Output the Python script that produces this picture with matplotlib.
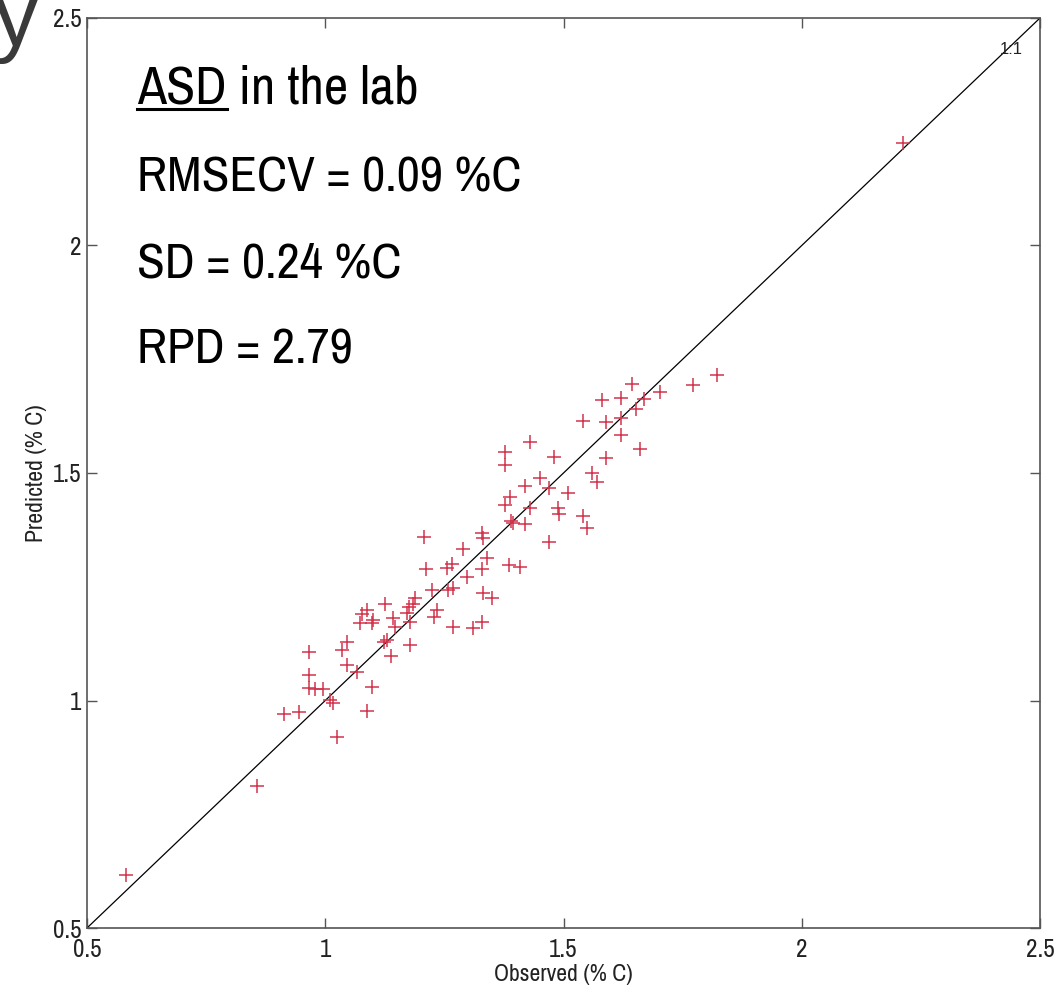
import matplotlib
matplotlib.use("Agg")
import matplotlib.pyplot as plt
from matplotlib import font_manager
from matplotlib.font_manager import FontProperties

# observed vs predicted %C
observed = [0.582, 0.857, 0.913, 0.945, 0.966, 0.966, 0.966, 0.978, 0.995, 1.010,
            1.016, 1.025, 1.035, 1.046, 1.046, 1.067, 1.088, 1.098, 1.077, 1.073,
            1.098, 1.125, 1.142, 1.146, 1.130, 1.138, 1.178, 1.172, 1.184, 1.088,
            1.100, 1.188, 1.176, 1.178, 1.207, 1.211, 1.224, 1.228, 1.235, 1.255,
            1.266, 1.258, 1.268, 1.268, 1.289, 1.297, 1.310, 1.329, 1.331, 1.339,
            1.329, 1.329, 1.331, 1.350, 1.377, 1.390, 1.386, 1.409, 1.377, 1.377,
            1.430, 1.480, 1.451, 1.419, 1.470, 1.388, 1.430, 1.488, 1.491, 1.394,
            1.419, 1.470, 1.509, 1.541, 1.549, 1.560, 1.570, 1.541, 1.589, 1.621,
            1.621, 1.661, 1.589, 1.581, 1.621, 1.644, 1.669, 1.703, 1.652, 1.772,
            1.822, 2.212, 1.123]
predicted = [0.616, 0.812, 0.970, 0.975, 1.107, 1.056, 1.027, 1.025, 1.025, 1.001,
             0.995, 0.920, 1.111, 1.129, 1.078, 1.063, 0.977, 1.030, 1.190, 1.170,
             1.170, 1.212, 1.181, 1.162, 1.133, 1.098, 1.122, 1.192, 1.212, 1.199,
             1.177, 1.225, 1.205, 1.173, 1.359, 1.289, 1.243, 1.184, 1.199, 1.291,
             1.300, 1.243, 1.247, 1.162, 1.333, 1.271, 1.159, 1.368, 1.357, 1.313,
             1.289, 1.173, 1.236, 1.225, 1.430, 1.395, 1.298, 1.293, 1.546, 1.518,
             1.568, 1.535, 1.489, 1.471, 1.467, 1.447, 1.423, 1.423, 1.410, 1.390,
             1.388, 1.348, 1.456, 1.405, 1.379, 1.500, 1.480, 1.614, 1.612, 1.621,
             1.584, 1.553, 1.533, 1.660, 1.665, 1.696, 1.663, 1.678, 1.641, 1.693,
             1.715, 2.225, 1.129]

ticks = [0.5, 1, 1.5, 2, 2.5]
tick_labels = ["0.5", "1", "1.5", "2", "2.5"]
heading = "ASD in the lab"
heading_underlined = "ASD"
stats_lines = ["RMSECV = 0.09 %C", "SD = 0.24 %C", "RPD = 2.79"]

# pick a narrow face if there is one (the original is Arial Narrow)
names = sorted({f.name for f in font_manager.fontManager.ttflist})
narrow = [n for n in names if "Narrow" in n or "Condensed" in n]
main_font = narrow[0] if narrow else "Roboto"
plt.rcParams["font.family"] = [main_font, "DejaVu Sans"]

fig = plt.figure(figsize=(10.62, 9.97), dpi=100)
ax = fig.add_axes([87 / 1062, 1 - 928 / 997, (1040 - 87) / 1062, (928 - 18) / 997])

ax.plot([0.5, 2.5], [0.5, 2.5], color="black", lw=0.9)
ax.plot(observed, predicted, linestyle="none", marker="+", markersize=10,
        markeredgewidth=1.1, color="#d2344c")

ax.set_xlim(0.5, 2.5)
ax.set_ylim(0.5, 2.5)
ax.set_xticks(ticks)
ax.set_xticklabels(tick_labels)
ax.set_yticks(ticks)
ax.set_yticklabels(tick_labels)
ax.tick_params(direction="in", length=7, width=1, colors="#555555", labelcolor="#222222",
               labelsize=18, top=True, right=True)
ax.tick_params(axis="x", pad=7)
ax.tick_params(axis="y", pad=4)
for s in ax.spines.values():
    s.set_color("#555555")
    s.set_linewidth(1.2)

ax.set_xlabel("Observed (% C)", fontsize=17, color="#222222", labelpad=2)
ax.set_ylabel("Predicted (% C)", fontsize=17, color="#222222", labelpad=4)

ax.text(2.44, 2.43, "1:1", fontsize=12, color="#222222", ha="center", va="center",
        family=["Liberation Sans", "DejaVu Sans"])

# size the big text so that the widest line spans about as far as in the original
renderer = fig.canvas.get_renderer()
w35, _, _ = renderer.get_text_width_height_descent(
    stats_lines[0], FontProperties(family=main_font, size=35), ismath=False)
big = 35 * 385 / w35

x0 = 137 / 1062
fig.text(x0, 1 - 103 / 997, heading, fontsize=big * 1.05, color="black",
         va="baseline", ha="left")
wu, _, _ = renderer.get_text_width_height_descent(
    heading_underlined, FontProperties(family=main_font, size=big * 1.05), ismath=False)
uy = 1 - 109 / 997
fig.add_artist(plt.Line2D([x0, x0 + wu / 1062], [uy, uy], transform=fig.transFigure,
                          color="black", lw=2.2))

for i, line in enumerate(stats_lines):
    fig.text(x0, 1 - (192 + 86 * i) / 997, line, fontsize=big,
             color="black", va="baseline", ha="left")

# cut-off glyph from the slide behind the chart
fig.text(-6 / 1062, 1 - 45 / 997, "y", fontsize=64, color="#3a3a3a",
         family=["Liberation Sans", "DejaVu Sans"], va="baseline", ha="left")

fig.savefig("out.png", dpi=100, facecolor="white")
